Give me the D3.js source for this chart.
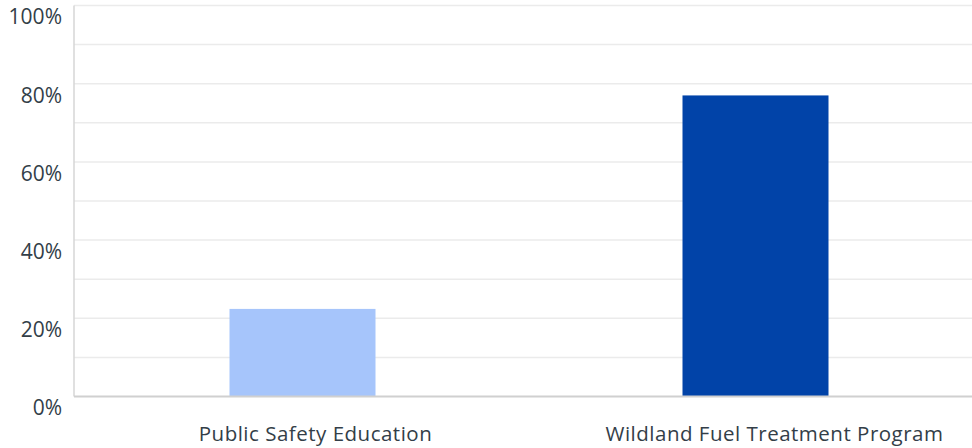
<!DOCTYPE html>
<html lang="en">
<head>
<meta charset="UTF-8">
<title>Bar chart</title>
<script src="https://d3js.org/d3.v7.min.js"></script>
<style>
    body { margin: 0; background: #fff; }
    .tick text { font-family: "Open Sans", "Noto Sans", sans-serif; fill: #333e48; }
</style>
</head>
<body>
<svg id="chart" width="972" height="448"></svg>
<script>
    // data
    const categories = ["Public Safety Education", "Wildland Fuel Treatment Program"];
    const values = [0.224, 0.77];
    const barColors = ["#a6c5fb", "#0143a8"];
    const yTicks = [0, 0.2, 0.4, 0.6, 0.8, 1.0];
    const gridTicks = [0.1, 0.2, 0.3, 0.4, 0.5, 0.6, 0.7, 0.8, 0.9, 1.0];

    const svg = d3.select("#chart");
    const plotLeft = 74, plotRight = 972, plotTop = 5.5, plotBottom = 396.5;

    const x = d3.scaleBand()
        .domain(categories)
        .range([76, 982])
        .padding(0);

    // labels sit a little right of the bars in the original
    const xLabel = d3.scaleBand()
        .domain(categories)
        .range([86, 1004])
        .padding(0);

    const y = d3.scaleLinear()
        .domain([0, 1])
        .range([plotBottom, plotTop]);

    const barW = 146;

    // gridlines
    svg.append("g")
        .selectAll("line")
        .data(gridTicks)
        .join("line")
        .attr("x1", plotLeft)
        .attr("x2", plotRight)
        .attr("y1", d => y(d))
        .attr("y2", d => y(d))
        .attr("stroke", "#ebebeb")
        .attr("stroke-width", 1.5);

    // bars
    svg.append("g")
        .selectAll("rect")
        .data(categories)
        .join("rect")
        .attr("x", d => x(d) + x.bandwidth() / 2 - barW / 2)
        .attr("width", barW)
        .attr("y", (d, i) => y(values[i]))
        .attr("height", (d, i) => y(0) - y(values[i]))
        .attr("fill", (d, i) => barColors[i]);

    // left axis line
    svg.append("line")
        .attr("x1", plotLeft).attr("x2", plotLeft)
        .attr("y1", plotTop).attr("y2", plotBottom)
        .attr("stroke", "#d6d6d6").attr("stroke-width", 1.5);

    // baseline
    svg.append("line")
        .attr("x1", plotLeft).attr("x2", plotRight)
        .attr("y1", plotBottom).attr("y2", plotBottom)
        .attr("stroke", "#d0d0d0").attr("stroke-width", 2);

    // y axis labels
    const yAxis = svg.append("g")
        .attr("transform", "translate(62,0)")
        .call(d3.axisLeft(y).tickValues(yTicks).tickFormat(d3.format(".0%")).tickSize(0).tickPadding(0));
    yAxis.select(".domain").remove();
    yAxis.selectAll("text")
        .attr("dy", "0.88em")
        .style("font-size", "21px");

    // x axis labels
    const xAxis = svg.append("g")
        .attr("transform", `translate(0,${plotBottom})`)
        .call(d3.axisBottom(xLabel).tickSize(0).tickPadding(0));
    xAxis.select(".domain").remove();
    xAxis.selectAll("text")
        .attr("y", 30)
        .style("font-size", "20.5px")
        .style("letter-spacing", "0.5px");
</script>
</body>
</html>
